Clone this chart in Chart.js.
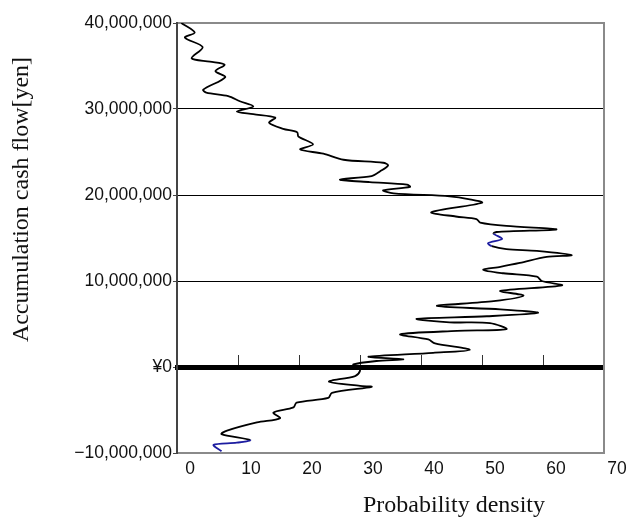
<!DOCTYPE html>
<html>
<head>
<meta charset="utf-8">
<script src="https://cdn.jsdelivr.net/npm/chart.js@4.4.1/dist/chart.umd.min.js"></script>
<style>
  html, body { margin: 0; padding: 0; background: #fff; }
  #wrap { width: 632px; height: 519px; position: relative; }
</style>
</head>
<body>
<div id="wrap"><canvas id="c"></canvas></div>
<script>
// Distribution of the accumulated cash flow: probability density (x) against cash flow (y).
// Cash flow is kept in million yen and converted to yen when the points are built.
const cashFlowMillions = [
  40.0, 38.9, 38.3, 37.2, 35.9, 35.5, 35.15, 34.4, 33.7, 32.25,
  31.9, 31.5, 30.9, 30.3, 29.7, 29.4, 29.0, 28.4, 27.7, 27.3,
  26.8, 25.9, 25.3, 24.8, 24.1, 23.75, 23.45, 22.75, 22.2, 21.8,
  21.5, 21.2, 20.95, 20.55, 20.2, 19.85, 19.5, 19.1, 18.0, 17.5,
  17.2, 16.8, 16.4, 16.0, 15.7, 15.5, 14.9, 14.4, 14.05, 13.7,
  13.5, 13.0, 12.8, 12.1, 11.65, 11.3, 10.9, 10.5, 10.0, 9.5,
  8.85, 8.3, 7.65, 7.1, 6.7, 6.3, 5.9, 5.6, 5.2, 5.1,
  4.4, 4.2, 3.8, 3.2, 2.75, 2.0, 1.65, 1.2, 0.9, 0.7,
  0.3, 0.0, -0.45, -1.05, -1.7, -2.2, -2.3, -3.0, -3.6, -4.15,
  -4.7, -5.3, -5.95, -6.45, -7.4, -7.8, -8.5, -8.8, -9.05, -9.8
];
const density = [
  0.7, 2.9, 1.3, 4.2, 2.4, 5.4, 7.8, 6.3, 7.9, 4.3,
  4.8, 8.4, 10.3, 12.5, 9.8, 12.5, 16.1, 15.1, 17.4, 19.7,
  19.9, 22.3, 20.2, 24.0, 27.3, 33.8, 34.6, 33.3, 31.9, 26.7,
  31.6, 37.7, 38.2, 33.8, 35.5, 44.7, 48.0, 50.0, 41.7, 45.7,
  49.1, 49.7, 54.0, 62.2, 52.4, 51.9, 53.3, 51.0, 51.6, 54.0,
  59.0, 64.7, 60.6, 56.2, 53.0, 50.2, 53.5, 59.0, 59.8, 63.1,
  53.0, 56.8, 51.9, 42.6, 53.0, 59.2, 50.8, 39.3, 44.7, 51.3,
  54.0, 45.9, 36.6, 41.2, 42.3, 48.0, 42.0, 31.4, 37.1, 32.7,
  28.9, 29.7, 30.0, 29.2, 24.9, 30.0, 31.9, 25.4, 24.8, 19.6,
  19.1, 15.8, 16.9, 13.1, 8.2, 7.3, 12.0, 9.8, 6.0, 7.3
];
// Cash-flow ranges (million yen) where the curve is drawn in blue
const highlightBands = [[14.0, 15.55], [-9.9, -8.45]];

const xTickLabels = ['0', '10', '20', '30', '40', '50', '60', '70'];
const yTickLabels = ['−10,000,000', '¥0', '10,000,000', '20,000,000', '30,000,000', '40,000,000'];
const xTitle = 'Probability density';
const yTitle = 'Accumulation cash flow[yen]';

const YEN = 1e6;
const points = density.map((d, i) => ({ x: d, y: cashFlowMillions[i] * YEN }));

const inBand = (a, b) => highlightBands.some(([lo, hi]) =>
  a >= lo * YEN && a <= hi * YEN && b >= lo * YEN && b <= hi * YEN);

const tickFont = { family: '"Liberation Sans", Arial, sans-serif', size: 17.5 };
const BOX_GRAY = '#8a8a8a';

// Axis titles placed relative to the plot area
const axisTitles = {
  id: 'axisTitles',
  afterDraw(chart) {
    const { ctx, chartArea } = chart;
    ctx.save();
    ctx.fillStyle = '#111';
    ctx.font = '24px "Liberation Serif", "Times New Roman", serif';
    ctx.textBaseline = 'alphabetic';
    ctx.textAlign = 'center';
    ctx.fillText(xTitle, chartArea.left + 277, chartArea.bottom + 58.5);
    ctx.translate(chartArea.left - 148.7, chartArea.top + 176.5);
    ctx.rotate(-Math.PI / 2);
    ctx.fillText(yTitle, 0, 0);
    ctx.restore();
  }
};

new Chart(document.getElementById('c'), {
  type: 'scatter',
  data: {
    datasets: [{
      label: 'density',
      data: points,
      showLine: true,
      pointRadius: 0,
      pointHoverRadius: 0,
      borderColor: '#000',
      borderWidth: 1.8,
      tension: 0.3,
      segment: {
        borderColor: ctx => inBand(ctx.p0.parsed.y, ctx.p1.parsed.y) ? '#1c1ca0' : undefined
      }
    }]
  },
  plugins: [axisTitles],
  options: {
    responsive: true,
    maintainAspectRatio: false,
    animation: false,
    devicePixelRatio: 1,
    layout: { padding: 0 },
    plugins: {
      legend: { display: false },
      tooltip: { enabled: false },
      title: { display: false }
    },
    scales: {
      x: {
        type: 'linear',
        position: 'bottom',
        min: 0, max: 70,
        afterFit(s) { s.height = 66; },
        ticks: {
          stepSize: 10,
          font: tickFont,
          color: '#111',
          padding: 6,
          labelOffset: 13,
          maxRotation: 0,
          callback: (v, i) => xTickLabels[i]
        },
        grid: { display: false, drawTicks: false },
        border: { display: true, color: BOX_GRAY, width: 2 }
      },
      xTop: {
        type: 'linear',
        axis: 'x',
        position: 'top',
        min: 0, max: 70,
        afterFit(s) { s.height = 23; },
        ticks: { display: false },
        grid: { display: false, drawTicks: false },
        border: { display: true, color: BOX_GRAY, width: 2 }
      },
      // Heavy axis line along zero cash flow with tick marks pointing up
      xZero: {
        type: 'linear',
        axis: 'x',
        position: { y: 0 },
        min: 0, max: 70,
        ticks: { display: false, stepSize: 10 },
        grid: {
          display: true,
          drawOnChartArea: false,
          drawTicks: true,
          tickLength: -15,
          tickColor: '#333',
          tickWidth: 1
        },
        border: { display: true, color: '#000', width: 5 }
      },
      y: {
        type: 'linear',
        position: 'left',
        min: -10 * YEN, max: 40 * YEN,
        afterFit(s) { s.width = 177; },
        ticks: {
          stepSize: 10 * YEN,
          font: tickFont,
          color: '#111',
          padding: 1,
          callback: (v, i) => yTickLabels[i]
        },
        grid: {
          color: ctx => (ctx.tick && ctx.tick.value > 0 && ctx.tick.value < 40 * YEN) ? '#000' : 'rgba(0,0,0,0)',
          lineWidth: 1,
          tickLength: 4,
          tickColor: '#444'
        },
        border: { display: true, color: '#444', width: 2 }
      },
      yRight: {
        type: 'linear',
        axis: 'y',
        position: 'right',
        min: -10 * YEN, max: 40 * YEN,
        afterFit(s) { s.width = 28; },
        ticks: { display: false },
        grid: { display: false, drawTicks: false },
        border: { display: true, color: BOX_GRAY, width: 2 }
      }
    }
  }
});
</script>
</body>
</html>
